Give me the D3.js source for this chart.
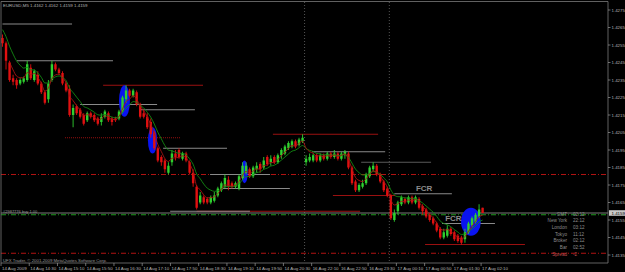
<!DOCTYPE html>
<html>
<head>
<meta charset="utf-8">
<script src="https://cdn.jsdelivr.net/npm/d3@7"></script>
<style>
  body { margin: 0; background: #000; }
  svg { display: block; }
  text { font-family: "Liberation Sans", Arial, sans-serif; }
</style>
</head>
<body>
<svg id="chart" width="625" height="272"></svg>
<script>
// EURUSD M5, 14 Aug 2009 13:50 -> 17 Aug 2009 02:10
const title = "EURUSD,M5  1.4162 1.4162 1.4159 1.4159";
const copyright = "UFX Trader, \u00a9 2001-2009 MetaQuotes Software Corp.";
const orderLabel = "#2987776 buy 1.00";

const timeLabels = [
  "14 Aug 2009", "14 Aug 14:30", "14 Aug 15:10", "14 Aug 15:50", "14 Aug 16:30",
  "14 Aug 17:10", "14 Aug 17:50", "14 Aug 18:30", "14 Aug 19:10", "14 Aug 19:50",
  "14 Aug 20:30", "16 Aug 22:10", "16 Aug 22:50", "16 Aug 23:30", "17 Aug 00:10",
  "17 Aug 00:50", "17 Aug 01:30", "17 Aug 02:10"
];
const priceTicks = [1.4275, 1.4265, 1.4255, 1.4245, 1.4235, 1.4225, 1.4215, 1.4205,
  1.4195, 1.4185, 1.4175, 1.4165, 1.4155, 1.4145, 1.4135];

const opens = [
  1.4259, 1.4256, 1.4245, 1.4236, 1.4235, 1.4233, 1.4234, 1.4235, 1.4242, 1.4235,
  1.4238, 1.4233, 1.4228, 1.4224, 1.4235, 1.4244, 1.4241, 1.4239, 1.4233, 1.4230,
  1.4215, 1.4220, 1.4218, 1.4215, 1.4212, 1.4216, 1.4215, 1.4213, 1.4211, 1.4214,
  1.4216, 1.4213, 1.4213, 1.4213, 1.4217, 1.4224, 1.4229, 1.4226, 1.4228, 1.4221,
  1.4216, 1.4214, 1.4211, 1.4205, 1.4196, 1.4191, 1.4189, 1.4182, 1.4188, 1.4193,
  1.4195, 1.4190, 1.4193, 1.4188, 1.4182, 1.4174, 1.4165, 1.4168, 1.4167, 1.4165,
  1.4166, 1.4169, 1.4172, 1.4174, 1.4178, 1.4176, 1.4174, 1.4173, 1.4179, 1.4182,
  1.4184, 1.4180, 1.4184, 1.4187, 1.4185, 1.4191, 1.4188, 1.4191, 1.4188, 1.4192,
  1.4193, 1.4196, 1.4197, 1.4200, 1.4198, 1.4200, 1.4188, 1.4189, 1.4189, 1.4192,
  1.4189, 1.4192, 1.4190, 1.4193, 1.4191, 1.4193, 1.4190, 1.4192, 1.4193, 1.4185,
  1.4177, 1.4172, 1.4174, 1.4176, 1.4180, 1.4184, 1.4186, 1.4181, 1.4177, 1.4173,
  1.4169, 1.4155, 1.4160, 1.4164, 1.4167, 1.4165, 1.4168, 1.4165, 1.4167, 1.4163,
  1.4161, 1.4158, 1.4156, 1.4153, 1.4150, 1.4145, 1.4146, 1.4150, 1.4148, 1.4146,
  1.4145, 1.4144, 1.4148, 1.4152, 1.4154, 1.4157, 1.4162
];
const highs = [
  1.4261, 1.4257, 1.4246, 1.4238, 1.4236, 1.4236, 1.4237, 1.4246, 1.4244, 1.4241,
  1.4240, 1.4234, 1.4229, 1.4235, 1.4246, 1.4245, 1.4242, 1.4240, 1.4234, 1.4232,
  1.4221, 1.4221, 1.4219, 1.4216, 1.4217, 1.4217, 1.4216, 1.4214, 1.4216, 1.4218,
  1.4217, 1.4214, 1.4214, 1.4218, 1.4226, 1.4232, 1.4230, 1.4230, 1.4229, 1.4222,
  1.4218, 1.4216, 1.4213, 1.4206, 1.4197, 1.4192, 1.4190, 1.4188, 1.4195, 1.4195,
  1.4196, 1.4194, 1.4194, 1.4189, 1.4184, 1.4175, 1.4171, 1.4169, 1.4168, 1.4169,
  1.4171, 1.4174, 1.4177, 1.4181, 1.4180, 1.4177, 1.4177, 1.4181, 1.4188, 1.4188,
  1.4185, 1.4186, 1.4188, 1.4188, 1.4191, 1.4192, 1.4192, 1.4192, 1.4193, 1.4196,
  1.4198, 1.4200, 1.4201, 1.4201, 1.4202, 1.4204, 1.4192, 1.4193, 1.4193, 1.4193,
  1.4193, 1.4193, 1.4194, 1.4194, 1.4195, 1.4194, 1.4194, 1.4195, 1.4194, 1.4186,
  1.4178, 1.4176, 1.4178, 1.4182, 1.4186, 1.4188, 1.4187, 1.4182, 1.4178, 1.4174,
  1.4170, 1.4161, 1.4166, 1.4169, 1.4168, 1.4169, 1.4169, 1.4169, 1.4168, 1.4164,
  1.4162, 1.4159, 1.4157, 1.4154, 1.4151, 1.4150, 1.4152, 1.4151, 1.4149, 1.4147,
  1.4146, 1.4150, 1.4154, 1.4157, 1.4159, 1.4164, 1.4162
];
const lows = [
  1.4254, 1.4241, 1.4234, 1.4232, 1.4230, 1.4232, 1.4233, 1.4234, 1.4235, 1.4234,
  1.4232, 1.4227, 1.4221, 1.4222, 1.4234, 1.4240, 1.4238, 1.4232, 1.4228, 1.4214,
  1.4208, 1.4215, 1.4213, 1.4209, 1.4211, 1.4213, 1.4211, 1.4209, 1.4209, 1.4213,
  1.4211, 1.4209, 1.4211, 1.4212, 1.4216, 1.4222, 1.4225, 1.4225, 1.4220, 1.4213,
  1.4213, 1.4207, 1.4202, 1.4195, 1.4188, 1.4186, 1.4182, 1.4181, 1.4186, 1.4189,
  1.4190, 1.4189, 1.4188, 1.4181, 1.4174, 1.4161, 1.4164, 1.4164, 1.4164, 1.4164,
  1.4165, 1.4168, 1.4171, 1.4173, 1.4172, 1.4173, 1.4173, 1.4172, 1.4178, 1.4181,
  1.4179, 1.4179, 1.4182, 1.4182, 1.4184, 1.4186, 1.4186, 1.4187, 1.4187, 1.4190,
  1.4192, 1.4195, 1.4196, 1.4196, 1.4197, 1.4199, 1.4186, 1.4188, 1.4188, 1.4188,
  1.4188, 1.4189, 1.4189, 1.4190, 1.4190, 1.4189, 1.4189, 1.4190, 1.4184, 1.4175,
  1.4171, 1.4171, 1.4173, 1.4175, 1.4179, 1.4183, 1.4180, 1.4176, 1.4171, 1.4168,
  1.4155, 1.4154, 1.4158, 1.4163, 1.4164, 1.4164, 1.4164, 1.4164, 1.4161, 1.4158,
  1.4156, 1.4154, 1.4152, 1.4148, 1.4144, 1.4144, 1.4145, 1.4146, 1.4143, 1.4142,
  1.4141, 1.4142, 1.4147, 1.4151, 1.4153, 1.4156, 1.4159
];
const closes = [
  1.4256, 1.4246, 1.4235, 1.4234, 1.4232, 1.4235, 1.4236, 1.4244, 1.4236, 1.4240,
  1.4233, 1.4228, 1.4222, 1.4233, 1.4244, 1.4241, 1.4239, 1.4233, 1.4229, 1.4215,
  1.4219, 1.4216, 1.4214, 1.4210, 1.4216, 1.4214, 1.4212, 1.4210, 1.4214, 1.4217,
  1.4212, 1.4211, 1.4212, 1.4217, 1.4225, 1.4229, 1.4226, 1.4229, 1.4221, 1.4214,
  1.4214, 1.4208, 1.4204, 1.4196, 1.4189, 1.4188, 1.4184, 1.4186, 1.4193, 1.4191,
  1.4191, 1.4193, 1.4189, 1.4182, 1.4176, 1.4162, 1.4169, 1.4165, 1.4165, 1.4168,
  1.4169, 1.4173, 1.4176, 1.4179, 1.4174, 1.4174, 1.4176, 1.4180, 1.4186, 1.4186,
  1.4180, 1.4185, 1.4186, 1.4184, 1.4189, 1.4187, 1.4190, 1.4188, 1.4192, 1.4195,
  1.4197, 1.4199, 1.4200, 1.4197, 1.4201, 1.4202, 1.4190, 1.4191, 1.4192, 1.4189,
  1.4192, 1.4190, 1.4193, 1.4191, 1.4193, 1.4190, 1.4193, 1.4194, 1.4185, 1.4176,
  1.4172, 1.4175, 1.4176, 1.4181, 1.4185, 1.4186, 1.4181, 1.4177, 1.4172, 1.4169,
  1.4156, 1.4159, 1.4165, 1.4168, 1.4165, 1.4168, 1.4165, 1.4168, 1.4162, 1.4160,
  1.4157, 1.4155, 1.4153, 1.4149, 1.4145, 1.4148, 1.4150, 1.4147, 1.4144, 1.4143,
  1.4142, 1.4148, 1.4153, 1.4156, 1.4158, 1.4161, 1.4159
];

// moving averages (EMA of close); slow one carries over from before the window
const slowPeriod = 8, fastPeriod = 4;
const slowSeed = 1.4266;

// trend lines: [from bar, to bar, price, style]
const levels = [
  [0, 19.7, 1.4267, "gray"], [4.1, 31.3, 1.4246, "gray"], [28.5, 56.8, 1.4232, "red"],
  [22, 43.8, 1.4221, "gray"], [39, 54.5, 1.4218, "gray"], [17.7, 50.3, 1.4202, "redDot"],
  [45.5, 63.6, 1.4196, "gray"], [58.8, 75.8, 1.4181, "gray"], [62.5, 81.4, 1.4173, "gray"],
  [76.6, 106.4, 1.4204, "red"], [87.7, 108.4, 1.4194, "gray"], [101.6, 121.4, 1.4188, "dim"],
  [111, 127.3, 1.4170, "gray"], [93.6, 111.2, 1.4169, "red"], [124.5, 139.5, 1.4153, "gray"],
  [119.7, 148, 1.4141, "red"], [55, 101.3, 1.4160, "red"], [47.5, 70.1, 1.4160, "gray"]
];
// full width order lines: [price, style]
const orderLines = [[1.4181, "red"], [1.4158, "green"], [1.4136, "red"]];
const bidPrice = 1.4159;
const daySeparators = [86, 110];

// blue marks: [from bar, to bar, top price, bottom price]
const marks = [
  [33.0, 36.1, 1.4232, 1.4214], [41.2, 43.8, 1.4208, 1.4193],
  [67.6, 69.5, 1.4189, 1.4176], [129.9, 135.5, 1.4162, 1.4146]
];
const fcrLabels = [[117.1, 1.4170], [125.4, 1.4153]];

const infoNames = ["GMT", "New York", "London", "Tokyo", "Broker", "Bar", "Spread"];
const infoValues = ["02:12", "22:12", "03:12", "11:12", "02:12", "02:52", "-2"];

const width = 625, height = 272;
const plotRight = 608, plotBottom = 263;
const bull = "#2fd02f", bear = "#e01010";
const styles = {
  gray: { stroke: "#8a8a8a", dash: null },
  dim: { stroke: "#5a5a5a", dash: null },
  red: { stroke: "#9a1010", dash: null },
  redDot: { stroke: "#9a1010", dash: "1,1" },
  green: { stroke: "#1f9a1f", dash: "5,2,1,2" }
};

const x = d3.scaleLinear().domain([0, 136]).range([2.5, 482.6]);
const y = d3.scaleLinear().domain([1.4275, 1.4135]).range([10, 255]);

const bars = opens.map((o, i) => ({ i, o, h: highs[i], l: lows[i], c: closes[i] }));

const ema = (values, period, seed) => {
  const k = 2 / (period + 1);
  let prev = seed === undefined ? values[0] : seed;
  return values.map((v) => (prev = prev + k * (v - prev)));
};
const slowMa = ema(closes, slowPeriod, slowSeed);
const fastMa = ema(closes, fastPeriod);

const svg = d3.select("#chart");
svg.append("rect").attr("width", width).attr("height", height).attr("fill", "#000");

svg.append("clipPath").attr("id", "plot-clip")
  .append("rect").attr("x", 1).attr("y", 2).attr("width", plotRight - 1).attr("height", plotBottom - 2);

const plot = svg.append("g").attr("clip-path", "url(#plot-clip)");

// day separators
plot.selectAll(".sep")
  .data(daySeparators)
  .join("line")
  .attr("class", "sep")
  .attr("x1", (d) => x(d) - 1.5)
  .attr("x2", (d) => x(d) - 1.5)
  .attr("y1", 2)
  .attr("y2", plotBottom)
  .attr("stroke", "#6a6a6a")
  .attr("stroke-width", 0.8)
  .attr("stroke-dasharray", "1,2");

// order / stop lines across the chart
plot.selectAll(".order")
  .data(orderLines)
  .join("line")
  .attr("class", "order")
  .attr("x1", 1)
  .attr("x2", plotRight)
  .attr("y1", (d) => y(d[0]))
  .attr("y2", (d) => y(d[0]))
  .attr("stroke", (d) => (d[1] === "red" ? "#b01212" : styles.green.stroke))
  .attr("stroke-dasharray", "5,2,1,2");

plot.append("line")
  .attr("x1", 1).attr("x2", plotRight)
  .attr("y1", y(bidPrice)).attr("y2", y(bidPrice))
  .attr("stroke", "#7a7a7a");

// trend lines
plot.selectAll(".level")
  .data(levels)
  .join("line")
  .attr("class", "level")
  .attr("x1", (d) => x(d[0]))
  .attr("x2", (d) => x(d[1]))
  .attr("y1", (d) => y(d[2]))
  .attr("y2", (d) => y(d[2]))
  .attr("stroke", (d) => styles[d[3]].stroke)
  .attr("stroke-dasharray", (d) => styles[d[3]].dash);

// blue marks behind the candles
plot.selectAll(".mark")
  .data(marks)
  .join("ellipse")
  .attr("class", "mark")
  .attr("cx", (d) => (x(d[0]) + x(d[1])) / 2)
  .attr("cy", (d) => (y(d[2]) + y(d[3])) / 2)
  .attr("rx", (d) => (x(d[1]) - x(d[0])) / 2)
  .attr("ry", (d) => (y(d[3]) - y(d[2])) / 2)
  .attr("fill", "#0a14f0");

// candles
const candle = plot.append("g")
  .selectAll("g")
  .data(bars)
  .join("g")
  .attr("fill", (d) => (d.c >= d.o ? bull : bear))
  .attr("stroke", (d) => (d.c >= d.o ? bull : bear));

candle.append("line")
  .attr("x1", (d) => x(d.i))
  .attr("x2", (d) => x(d.i))
  .attr("y1", (d) => y(d.h))
  .attr("y2", (d) => y(d.l))
  .attr("stroke-width", 0.9);

candle.append("rect")
  .attr("x", (d) => x(d.i) - 1.2)
  .attr("width", 2.4)
  .attr("y", (d) => y(Math.max(d.o, d.c)))
  .attr("height", (d) => Math.max(1, Math.abs(y(d.o) - y(d.c))))
  .attr("stroke", "none");

// moving averages
const maLine = d3.line().x((d, i) => x(i)).y((d) => y(d)).curve(d3.curveMonotoneX);
plot.append("path")
  .attr("d", maLine(slowMa))
  .attr("fill", "none")
  .attr("stroke", "#138a13")
  .attr("stroke-width", 0.9);
plot.append("path")
  .datum(fastMa)
  .attr("d", d3.line().defined((d, i) => i >= 2).x((d, i) => x(i)).y((d) => y(d)).curve(d3.curveMonotoneX))
  .attr("fill", "none")
  .attr("stroke", "#a81414")
  .attr("stroke-width", 0.9);

// FCR tags
plot.selectAll(".fcr")
  .data(fcrLabels)
  .join("text")
  .attr("class", "fcr")
  .attr("x", (d) => x(d[0]))
  .attr("y", (d) => y(d[1]) - 3)
  .attr("fill", "#8c8c8c")
  .style("font-size", "8px")
  .style("font-weight", "bold")
  .text("FCR");

// frame
svg.append("path")
  .attr("d", `M1,${plotBottom} V1.5 H${plotRight} V${plotBottom} H1`)
  .attr("fill", "none")
  .attr("stroke", "#7a7a7a")
  .attr("stroke-width", 0.8);

// price axis
const priceAxis = svg.append("g").attr("class", "price-axis");
priceAxis.selectAll("line")
  .data(priceTicks)
  .join("line")
  .attr("x1", plotRight)
  .attr("x2", plotRight + 2.5)
  .attr("y1", (d) => y(d))
  .attr("y2", (d) => y(d))
  .attr("stroke", "#9a9a9a")
  .attr("stroke-width", 0.7);
priceAxis.selectAll("text")
  .data(priceTicks)
  .join("text")
  .attr("x", plotRight + 3.5)
  .attr("y", (d) => y(d) + 1.6)
  .attr("fill", "#b4b4b4")
  .style("font-size", "4.4px")
  .text((d) => d.toFixed(4));

// current bid box
priceAxis.append("rect")
  .attr("x", plotRight + 1)
  .attr("y", y(bidPrice) - 2.8)
  .attr("width", width - plotRight - 1)
  .attr("height", 5.6)
  .attr("fill", "#c8c8c8");
priceAxis.append("text")
  .attr("x", plotRight + 3.5)
  .attr("y", y(bidPrice) + 1.6)
  .attr("fill", "#000")
  .style("font-size", "4.4px")
  .text(bidPrice.toFixed(4));

// time axis
const timeAxis = svg.append("g").attr("class", "time-axis");
timeAxis.selectAll("line")
  .data(timeLabels)
  .join("line")
  .attr("x1", (d, k) => x(k * 8) - 1.5)
  .attr("x2", (d, k) => x(k * 8) - 1.5)
  .attr("y1", plotBottom)
  .attr("y2", plotBottom + 3)
  .attr("stroke", "#9a9a9a")
  .attr("stroke-width", 0.7);
timeAxis.selectAll("text")
  .data(timeLabels)
  .join("text")
  .attr("x", (d, k) => x(k * 8) - 0.5)
  .attr("y", plotBottom + 6.5)
  .attr("fill", "#b4b4b4")
  .style("font-size", "4.4px")
  .text((d) => d);

// texts on the chart
svg.append("text")
  .attr("x", 3).attr("y", 6.5)
  .attr("fill", "#b4b4b4")
  .style("font-size", "4.4px")
  .text(title);

svg.append("text")
  .attr("x", 3).attr("y", y(orderLines[1][0]) - 1.5)
  .attr("fill", "#9a9a9a")
  .style("font-size", "4px")
  .text(orderLabel);

svg.append("text")
  .attr("x", 3).attr("y", plotBottom - 1.5)
  .attr("fill", "#9a9a9a")
  .style("font-size", "4.3px")
  .text(copyright);

// clock panel
const info = svg.append("g").attr("class", "clock");
const rowY = d3.scaleLinear().domain([0, 6]).range([215.8, 255.6]);
info.selectAll(".name")
  .data(infoNames)
  .join("text")
  .attr("class", "name")
  .attr("x", 567)
  .attr("y", (d, i) => rowY(i))
  .attr("text-anchor", "end")
  .attr("fill", (d, i) => (i === 6 ? "#c05050" : "#8c8c8c"))
  .style("font-size", "4.6px")
  .text((d) => d);
info.selectAll(".value")
  .data(infoValues)
  .join("text")
  .attr("class", "value")
  .attr("x", 573)
  .attr("y", (d, i) => rowY(i))
  .attr("fill", (d, i) => (i === 6 ? "#c05050" : "#8c8c8c"))
  .style("font-size", "4.6px")
  .text((d) => d);
</script>
</body>
</html>
